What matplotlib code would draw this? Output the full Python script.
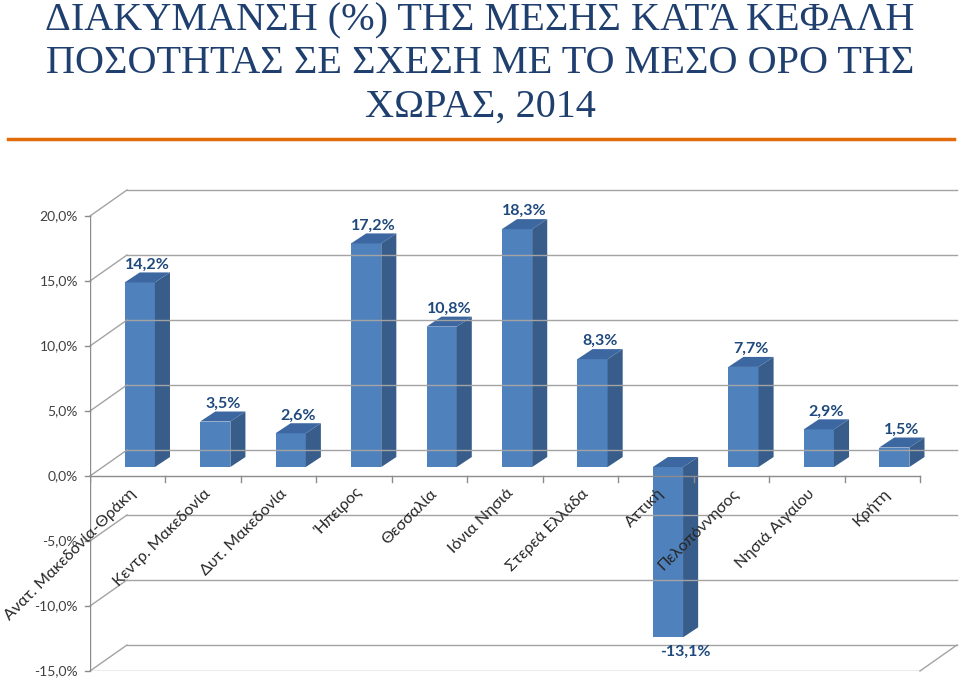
import matplotlib
matplotlib.use("Agg")
from matplotlib import pyplot as plt

# data
regions = ["Ανατ. Μακεδονία-Θράκη", "Κεντρ. Μακεδονία", "Δυτ. Μακεδονία", "Ήπειρος",
           "Θεσσαλία", "Ιόνια Νησιά", "Στερεά Ελλάδα", "Αττική", "Πελοπόννησος",
           "Νησιά Αιγαίου", "Κρήτη"]
values = [14.2, 3.5, 2.6, 17.2, 10.8, 18.3, 8.3, -13.1, 7.7, 2.9, 1.5]
yticks = [-15, -10, -5, 0, 5, 10, 15, 20]

title = "ΔΙΑΚΥΜΑΝΣΗ (%) ΤΗΣ ΜΕΣΗΣ ΚΑΤΆ ΚΕΦΑΛΗ\nΠΟΣΟΤΗΤΑΣ ΣΕ ΣΧΕΣΗ ΜΕ ΤΟ ΜΕΣΟ ΟΡΟ ΤΗΣ\nΧΩΡΑΣ, 2014"

# 3d look: offsets in data units (category, percent)
wall_dx, wall_dy = 0.49, 2.0
bar_off_x, bar_off_y = 0.16, 0.69
bar_half = 0.2
bar_dx, bar_dy = 0.2, 0.77

grid_col = "#a3a3a3"
axis_col = "#8c8c8c"
front_col = "#4f81bd"
side_col = "#385d8a"
top_col = "#3c67a0"
label_col = "#1f497d"

fig = plt.figure(figsize=(9.6, 6.8), dpi=100)

fig.text(0.5, 1 - 2 / 680, title, ha="center", va="top", fontsize=29,
         family="Liberation Serif", color="#1f3f6e", linespacing=1.22)
fig.add_artist(plt.Line2D([8 / 960, 954 / 960], [1 - 139 / 680] * 2,
                          color="#e36c0a", lw=2.5))

n = len(regions)
ax = fig.add_axes([90 / 960, 9 / 680, 867.7 / 960, 481 / 680])
ax.set_xlim(0, n + 0.5)
ax.set_ylim(-15, 22)
ax.axis("off")

# back wall gridlines + side diagonals
for v in yticks:
    ax.plot([0, wall_dx], [v, v + wall_dy], color=grid_col, lw=1.0, clip_on=False)
    ax.plot([wall_dx, n + wall_dx], [v + wall_dy] * 2, color=grid_col, lw=1.0, clip_on=False)
    ax.plot([-0.07, 0], [v, v], color=axis_col, lw=1.0, clip_on=False)
    ax.text(-0.16, v, f"{v:.1f}%".replace(".", ","), ha="right", va="center",
            fontsize=10, family="Lato", color="#404040")

# floor at the bottom
ax.plot([0, n], [-15, -15], color=grid_col, lw=1.0)
ax.plot([n, n + wall_dx], [-15, -15 + wall_dy], color=grid_col, lw=1.0, clip_on=False)

# value axis and category axis
ax.plot([0, 0], [-15, 20], color=axis_col, lw=1.0)
ax.plot([0, n], [0, 0], color=axis_col, lw=1.0)
for i in range(n + 1):
    ax.plot([i, i], [0, -0.45], color=axis_col, lw=1.0)

# bars
for i, v in enumerate(values):
    x0 = i + 0.5 + bar_off_x - bar_half
    x1 = i + 0.5 + bar_off_x + bar_half
    lo = min(v, 0) + bar_off_y
    hi = max(v, 0) + bar_off_y
    ax.fill([x0, x1, x1, x0], [lo, lo, hi, hi], color=front_col, lw=0)
    ax.fill([x1, x1 + bar_dx, x1 + bar_dx, x1], [lo, lo + bar_dy, hi + bar_dy, hi],
            color=side_col, lw=0)
    ax.fill([x0, x1, x1 + bar_dx, x0 + bar_dx], [hi, hi, hi + bar_dy, hi + bar_dy],
            color=top_col, lw=0)
    txt = f"{v:.1f}%".replace(".", ",")
    if v >= 0:
        ax.text((x0 + x1) / 2 + bar_dx / 2, hi + bar_dy + 0.3, txt, ha="center",
                va="baseline", fontsize=11.5, fontweight="bold", family="Lato", color=label_col)
    else:
        ax.text((x0 + x1) / 2 + bar_dx + 0.03, lo - 0.6, txt, ha="center",
                va="top", fontsize=11.5, fontweight="bold", family="Lato", color=label_col)

# category labels on top of everything
for i, name in enumerate(regions):
    ax.text(i + 0.5 + 0.01, -0.8, name, ha="right", va="top", rotation=45,
            rotation_mode="anchor", fontsize=11.6, family="Lato", color="#262626",
            clip_on=False, zorder=5)

plt.savefig("out.png", dpi=100)
